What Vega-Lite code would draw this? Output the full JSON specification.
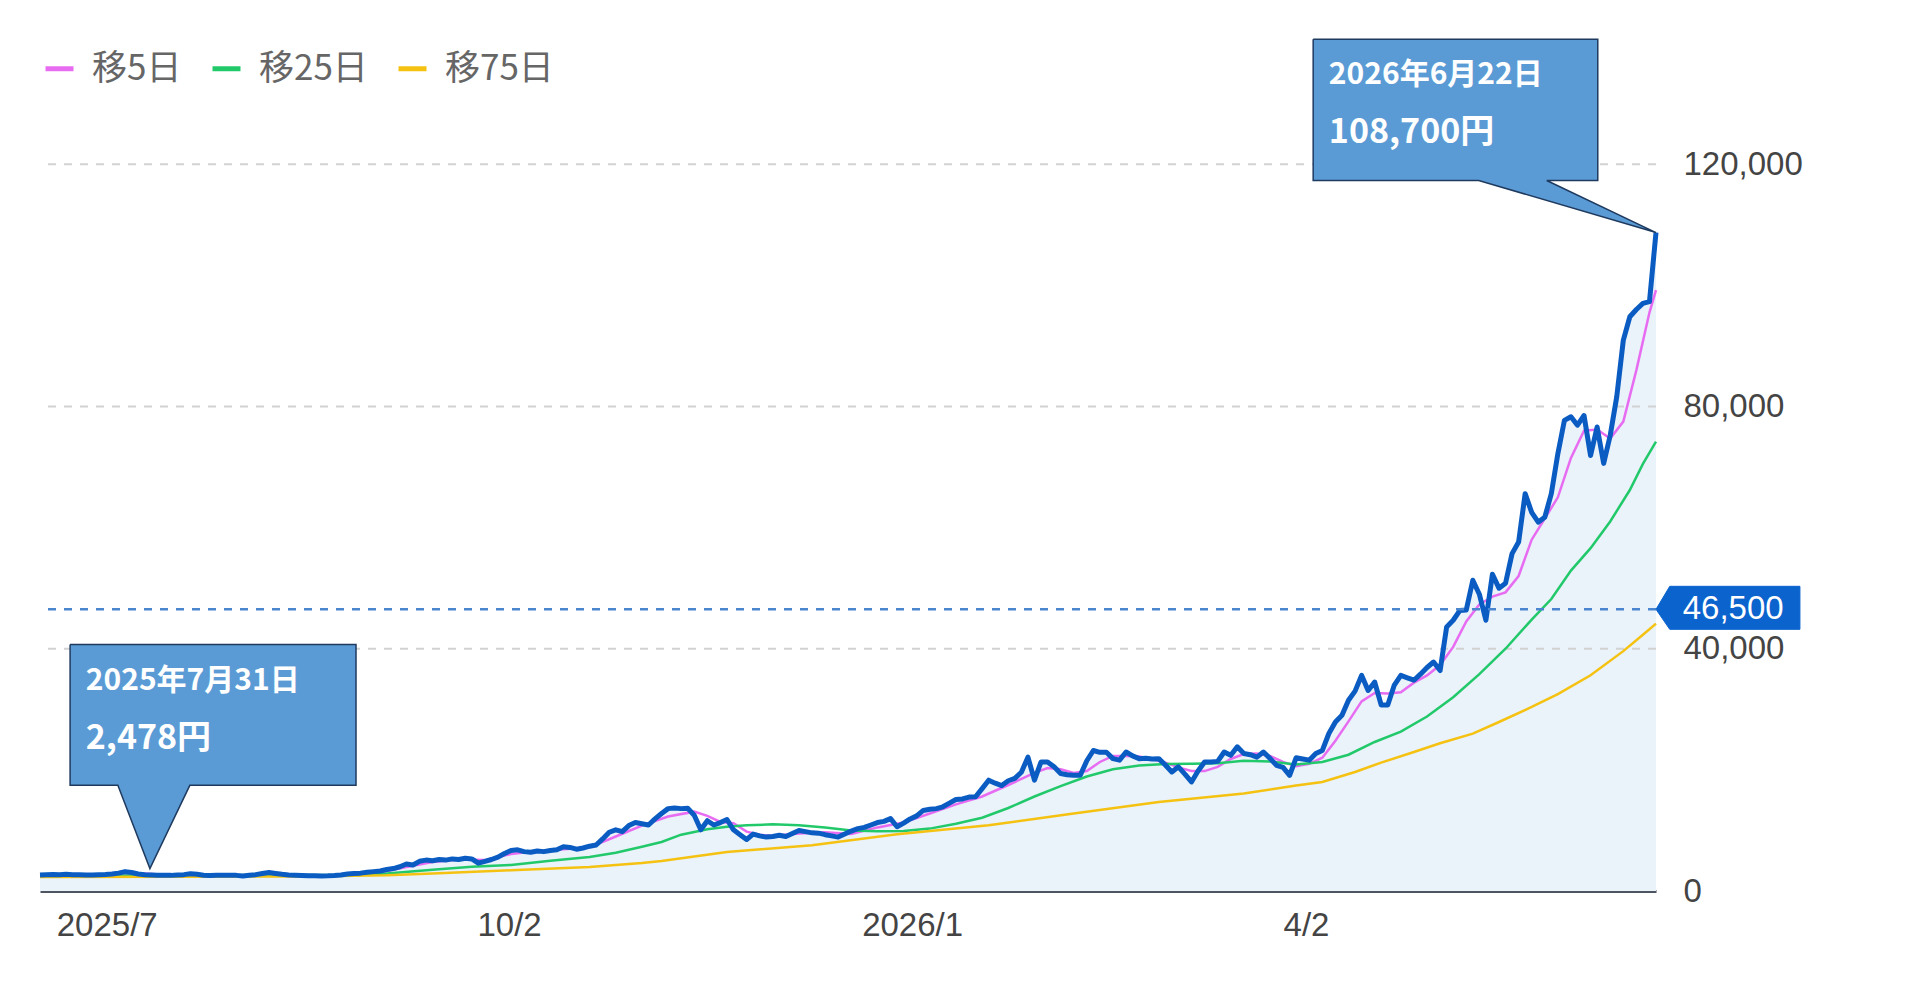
{
"$schema": "https://vega.github.io/schema/vega-lite/v6.json",
"width": 1616, "height": 848,
"autosize": {"type": "none"},
"padding": {"left": 40, "top": 43, "right": 254, "bottom": 106},
"background": "white",
"config": {"view": {"stroke": null}, "font": "Liberation Sans"},
"datasets": {
"price": [
{"i":0,"p":2650},{"i":1,"p":2700},{"i":2,"p":2720},{"i":3,"p":2680},{"i":4,"p":2750},{"i":5,"p":2700},{"i":6,"p":2690},{"i":7,"p":2640},{"i":8,"p":2660},{"i":9,"p":2700},
{"i":10,"p":2720},{"i":11,"p":2800},{"i":12,"p":2950},{"i":13,"p":3200},{"i":14,"p":3050},{"i":15,"p":2800},{"i":16,"p":2700},{"i":17,"p":2650},{"i":18,"p":2600},{"i":19,"p":2620},
{"i":20,"p":2580},{"i":21,"p":2650},{"i":22,"p":2700},{"i":23,"p":2850},{"i":24,"p":2750},{"i":25,"p":2600},{"i":26,"p":2550},{"i":27,"p":2580},{"i":28,"p":2620},{"i":29,"p":2600},
{"i":30,"p":2580},{"i":31,"p":2478},{"i":32,"p":2600},{"i":33,"p":2700},{"i":34,"p":2900},{"i":35,"p":3050},{"i":36,"p":2900},{"i":37,"p":2750},{"i":38,"p":2650},{"i":39,"p":2600},
{"i":40,"p":2550},{"i":41,"p":2500},{"i":42,"p":2520},{"i":43,"p":2480},{"i":44,"p":2500},{"i":45,"p":2550},{"i":46,"p":2650},{"i":47,"p":2800},{"i":48,"p":2900},{"i":49,"p":2950},
{"i":50,"p":3100},{"i":51,"p":3200},{"i":52,"p":3300},{"i":53,"p":3550},{"i":54,"p":3700},{"i":55,"p":4000},{"i":56,"p":4450},{"i":57,"p":4300},{"i":58,"p":4900},{"i":59,"p":5100},
{"i":60,"p":5000},{"i":61,"p":5200},{"i":62,"p":5100},{"i":63,"p":5300},{"i":64,"p":5200},{"i":65,"p":5400},{"i":66,"p":5300},{"i":67,"p":4600},{"i":68,"p":4900},{"i":69,"p":5200},
{"i":70,"p":5600},{"i":71,"p":6200},{"i":72,"p":6700},{"i":73,"p":6800},{"i":74,"p":6500},{"i":75,"p":6400},{"i":76,"p":6600},{"i":77,"p":6500},{"i":78,"p":6700},{"i":79,"p":6800},
{"i":80,"p":7300},{"i":81,"p":7200},{"i":82,"p":6900},{"i":83,"p":7100},{"i":84,"p":7400},{"i":85,"p":7600},{"i":86,"p":8600},{"i":87,"p":9700},{"i":88,"p":10100},{"i":89,"p":9800},
{"i":90,"p":10800},{"i":91,"p":11300},{"i":92,"p":11100},{"i":93,"p":10900},{"i":94,"p":11900},{"i":95,"p":12800},{"i":96,"p":13600},{"i":97,"p":13700},{"i":98,"p":13600},{"i":99,"p":13650},
{"i":100,"p":12500},{"i":101,"p":10100},{"i":102,"p":11600},{"i":103,"p":10900},{"i":104,"p":11300},{"i":105,"p":11800},{"i":106,"p":10100},{"i":107,"p":9300},{"i":108,"p":8500},{"i":109,"p":9400},
{"i":110,"p":9100},{"i":111,"p":8900},{"i":112,"p":9000},{"i":113,"p":9200},{"i":114,"p":9000},{"i":115,"p":9500},{"i":116,"p":10000},{"i":117,"p":9800},{"i":118,"p":9600},{"i":119,"p":9550},
{"i":120,"p":9300},{"i":121,"p":9100},{"i":122,"p":8900},{"i":123,"p":9400},{"i":124,"p":9900},{"i":125,"p":10300},{"i":126,"p":10500},{"i":127,"p":10900},{"i":128,"p":11300},{"i":129,"p":11500},
{"i":130,"p":11950},{"i":131,"p":10600},{"i":132,"p":11200},{"i":133,"p":11900},{"i":134,"p":12400},{"i":135,"p":13300},{"i":136,"p":13500},{"i":137,"p":13600},{"i":138,"p":13900},{"i":139,"p":14500},
{"i":140,"p":15100},{"i":141,"p":15200},{"i":142,"p":15500},{"i":143,"p":15550},{"i":144,"p":16900},{"i":145,"p":18300},{"i":146,"p":17800},{"i":147,"p":17400},{"i":148,"p":18200},{"i":149,"p":18600},
{"i":150,"p":19600},{"i":151,"p":22100},{"i":152,"p":18300},{"i":153,"p":21300},{"i":154,"p":21300},{"i":155,"p":20500},{"i":156,"p":19400},{"i":157,"p":19200},{"i":158,"p":19100},{"i":159,"p":19100},
{"i":160,"p":21500},{"i":161,"p":23200},{"i":162,"p":22900},{"i":163,"p":22900},{"i":164,"p":21850},{"i":165,"p":21600},{"i":166,"p":22950},{"i":167,"p":22300},{"i":168,"p":21850},{"i":169,"p":21900},
{"i":170,"p":21800},{"i":171,"p":21850},{"i":172,"p":20800},{"i":173,"p":19650},{"i":174,"p":20500},{"i":175,"p":19300},{"i":176,"p":18000},{"i":177,"p":19800},{"i":178,"p":21300},{"i":179,"p":21300},
{"i":180,"p":21400},{"i":181,"p":22950},{"i":182,"p":22400},{"i":183,"p":23800},{"i":184,"p":22700},{"i":185,"p":22500},{"i":186,"p":22100},{"i":187,"p":22950},{"i":188,"p":21900},{"i":189,"p":20750},
{"i":190,"p":20400},{"i":191,"p":19100},{"i":192,"p":22000},{"i":193,"p":21800},{"i":194,"p":21600},{"i":195,"p":22700},{"i":196,"p":23200},{"i":197,"p":26000},{"i":198,"p":27900},{"i":199,"p":29000},
{"i":200,"p":31500},{"i":201,"p":33000},{"i":202,"p":35600},{"i":203,"p":33100},{"i":204,"p":34500},{"i":205,"p":30700},{"i":206,"p":30700},{"i":207,"p":34000},{"i":208,"p":35600},{"i":209,"p":35200},
{"i":210,"p":34800},{"i":211,"p":35800},{"i":212,"p":36900},{"i":213,"p":37800},{"i":214,"p":36400},{"i":215,"p":43600},{"i":216,"p":44700},{"i":217,"p":46300},{"i":218,"p":46400},{"i":219,"p":51300},
{"i":220,"p":49000},{"i":221,"p":44700},{"i":222,"p":52300},{"i":223,"p":50000},{"i":224,"p":50800},{"i":225,"p":55700},{"i":226,"p":57600},{"i":227,"p":65600},{"i":228,"p":62500},{"i":229,"p":60900},
{"i":230,"p":61700},{"i":231,"p":65600},{"i":232,"p":72200},{"i":233,"p":77700},{"i":234,"p":78300},{"i":235,"p":76900},{"i":236,"p":78500},{"i":237,"p":71900},{"i":238,"p":76600},{"i":239,"p":70600},
{"i":240,"p":75200},{"i":241,"p":81600},{"i":242,"p":90900},{"i":243,"p":94800},{"i":244,"p":96000},{"i":245,"p":97000},{"i":246,"p":97300},{"i":247,"p":108700}
],
"ma": [
{"s":"移5日","i":0,"v":2680},{"s":"移5日","i":4,"v":2700},{"s":"移5日","i":8,"v":2690},{"s":"移5日","i":12,"v":2800},{"s":"移5日","i":16,"v":2900},{"s":"移5日","i":20,"v":2620},{"s":"移5日","i":24,"v":2700},{"s":"移5日","i":28,"v":2600},{"s":"移5日","i":32,"v":2580},{"s":"移5日","i":36,"v":2850},{"s":"移5日","i":40,"v":2650},{"s":"移5日","i":44,"v":2520},{"s":"移5日","i":48,"v":2700},{"s":"移5日","i":52,"v":3100},{"s":"移5日","i":56,"v":3950},{"s":"移5日","i":60,"v":4800},{"s":"移5日","i":64,"v":5200},{"s":"移5日","i":68,"v":5100},{"s":"移5日","i":72,"v":6100},{"s":"移5日","i":76,"v":6600},{"s":"移5日","i":80,"v":6900},{"s":"移5日","i":84,"v":7200},{"s":"移5日","i":88,"v":9000},{"s":"移5日","i":92,"v":10800},{"s":"移5日","i":96,"v":12300},{"s":"移5日","i":100,"v":13100},{"s":"移5日","i":102,"v":12400},{"s":"移5日","i":104,"v":11400},{"s":"移5日","i":106,"v":11200},{"s":"移5日","i":108,"v":9800},{"s":"移5日","i":110,"v":9300},{"s":"移5日","i":112,"v":9100},{"s":"移5日","i":116,"v":9500},{"s":"移5日","i":120,"v":9700},{"s":"移5日","i":124,"v":9400},{"s":"移5日","i":128,"v":10500},{"s":"移5日","i":132,"v":11300},{"s":"移5日","i":136,"v":12800},{"s":"移5日","i":140,"v":14300},{"s":"移5日","i":144,"v":15600},{"s":"移5日","i":148,"v":17500},{"s":"移5日","i":150,"v":18500},{"s":"移5日","i":152,"v":19500},{"s":"移5日","i":154,"v":20300},{"s":"移5日","i":156,"v":20100},{"s":"移5日","i":158,"v":19500},{"s":"移5日","i":160,"v":19800},{"s":"移5日","i":162,"v":21300},{"s":"移5日","i":164,"v":22300},{"s":"移5日","i":166,"v":22300},{"s":"移5日","i":168,"v":22200},{"s":"移5日","i":170,"v":21800},{"s":"移5日","i":172,"v":21200},{"s":"移5日","i":174,"v":20400},{"s":"移5日","i":176,"v":19800},{"s":"移5日","i":178,"v":19800},{"s":"移5日","i":180,"v":20500},{"s":"移5日","i":182,"v":21800},{"s":"移5日","i":184,"v":22600},{"s":"移5日","i":186,"v":22700},{"s":"移5日","i":188,"v":22300},{"s":"移5日","i":190,"v":21300},{"s":"移5日","i":192,"v":20600},{"s":"移5日","i":194,"v":21000},{"s":"移5日","i":196,"v":22000},{"s":"移5日","i":198,"v":24800},{"s":"移5日","i":200,"v":28000},{"s":"移5日","i":202,"v":31300},{"s":"移5日","i":204,"v":32700},{"s":"移5日","i":206,"v":32600},{"s":"移5日","i":208,"v":32800},{"s":"移5日","i":210,"v":34400},{"s":"移5日","i":212,"v":35600},{"s":"移5日","i":214,"v":37300},{"s":"移5日","i":216,"v":40300},{"s":"移5日","i":218,"v":44500},{"s":"移5日","i":220,"v":47300},{"s":"移5日","i":222,"v":48600},{"s":"移5日","i":224,"v":49300},{"s":"移5日","i":226,"v":52000},{"s":"移5日","i":228,"v":58000},{"s":"移5日","i":230,"v":61500},{"s":"移5日","i":232,"v":65000},{"s":"移5日","i":234,"v":71500},{"s":"移5日","i":236,"v":76000},{"s":"移5日","i":238,"v":76200},{"s":"移5日","i":240,"v":74700},{"s":"移5日","i":242,"v":77500},{"s":"移5日","i":244,"v":86000},{"s":"移5日","i":246,"v":95500},{"s":"移5日","i":247,"v":99200},
{"s":"移25日","i":0,"v":2450},{"s":"移25日","i":10,"v":2500},{"s":"移25日","i":20,"v":2600},{"s":"移25日","i":30,"v":2620},{"s":"移25日","i":40,"v":2650},{"s":"移25日","i":48,"v":2620},{"s":"移25日","i":53,"v":2870},{"s":"移25日","i":60,"v":3500},{"s":"移25日","i":66,"v":4000},{"s":"移25日","i":72,"v":4300},{"s":"移25日","i":78,"v":5000},{"s":"移25日","i":84,"v":5600},{"s":"移25日","i":88,"v":6300},{"s":"移25日","i":92,"v":7300},{"s":"移25日","i":95,"v":8100},{"s":"移25日","i":98,"v":9300},{"s":"移25日","i":102,"v":10200},{"s":"移25日","i":105,"v":10600},{"s":"移25日","i":108,"v":10850},{"s":"移25日","i":112,"v":11000},{"s":"移25日","i":116,"v":10850},{"s":"移25日","i":120,"v":10500},{"s":"移25日","i":124,"v":10000},{"s":"移25日","i":128,"v":9850},{"s":"移25日","i":132,"v":9900},{"s":"移25日","i":136,"v":10300},{"s":"移25日","i":140,"v":11100},{"s":"移25日","i":144,"v":12100},{"s":"移25日","i":148,"v":13700},{"s":"移25日","i":152,"v":15600},{"s":"移25日","i":156,"v":17300},{"s":"移25日","i":160,"v":18900},{"s":"移25日","i":164,"v":20100},{"s":"移25日","i":168,"v":20700},{"s":"移25日","i":172,"v":20950},{"s":"移25日","i":176,"v":21000},{"s":"移25日","i":180,"v":21100},{"s":"移25日","i":184,"v":21500},{"s":"移25日","i":188,"v":21400},{"s":"移25日","i":192,"v":20900},{"s":"移25日","i":196,"v":21300},{"s":"移25日","i":200,"v":22500},{"s":"移25日","i":204,"v":24600},{"s":"移25日","i":208,"v":26300},{"s":"移25日","i":212,"v":28800},{"s":"移25日","i":216,"v":32000},{"s":"移25日","i":220,"v":35800},{"s":"移25日","i":224,"v":40000},{"s":"移25日","i":228,"v":44800},{"s":"移25日","i":231,"v":48200},{"s":"移25日","i":234,"v":52900},{"s":"移25日","i":237,"v":56600},{"s":"移25日","i":240,"v":61000},{"s":"移25日","i":243,"v":66200},{"s":"移25日","i":245,"v":70500},{"s":"移25日","i":247,"v":74200},
{"s":"移75日","i":0,"v":2300},{"s":"移75日","i":20,"v":2350},{"s":"移75日","i":40,"v":2400},{"s":"移75日","i":53,"v":2590},{"s":"移75日","i":60,"v":2900},{"s":"移75日","i":72,"v":3420},{"s":"移75日","i":84,"v":3960},{"s":"移75日","i":92,"v":4620},{"s":"移75日","i":95,"v":4950},{"s":"移75日","i":105,"v":6440},{"s":"移75日","i":118,"v":7540},{"s":"移75日","i":131,"v":9360},{"s":"移75日","i":145,"v":10850},{"s":"移75日","i":158,"v":12780},{"s":"移75日","i":171,"v":14690},{"s":"移75日","i":184,"v":16080},{"s":"移75日","i":192,"v":17400},{"s":"移75日","i":196,"v":18000},{"s":"移75日","i":201,"v":19650},{"s":"移75日","i":205,"v":21200},{"s":"移75日","i":210,"v":22950},{"s":"移75日","i":214,"v":24400},{"s":"移75日","i":219,"v":25990},{"s":"移75日","i":223,"v":27900},{"s":"移75日","i":228,"v":30380},{"s":"移75日","i":232,"v":32500},{"s":"移75日","i":237,"v":35610},{"s":"移75日","i":242,"v":39600},{"s":"移75日","i":245,"v":42300},{"s":"移75日","i":247,"v":44150}
],
"grid": [{"v":40000},{"v":80000},{"v":120000}],
"callout": [
{"id":"a","o":1,"x":194.6,"y":140600},{"id":"a","o":2,"x":238.1,"y":140600},{"id":"a","o":3,"x":238.1,"y":117300},{"id":"a","o":4,"x":230.3,"y":117300},{"id":"a","o":5,"x":247,"y":108700},{"id":"a","o":6,"x":219.9,"y":117300},{"id":"a","o":7,"x":194.6,"y":117300},{"id":"a","o":8,"x":194.6,"y":140600},
{"id":"b","o":1,"x":4.6,"y":40700},{"id":"b","o":2,"x":48.3,"y":40700},{"id":"b","o":3,"x":48.3,"y":17450},{"id":"b","o":4,"x":22.9,"y":17450},{"id":"b","o":5,"x":16.8,"y":3700},{"id":"b","o":6,"x":11.9,"y":17450},{"id":"b","o":7,"x":4.6,"y":17450},{"id":"b","o":8,"x":4.6,"y":40700}
],
"tag": [
{"o":1,"x":247,"y":46500},{"o":2,"x":249.1,"y":50300},{"o":3,"x":269,"y":50300},{"o":4,"x":269,"y":43200},{"o":5,"x":249.1,"y":43200},{"o":6,"x":247,"y":46500}
],
"dates": [{"x":197.0,"y":134700,"t":"2026年6月22日"},{"x":7.0,"y":34630,"t":"2025年7月31日"}],
"prices": [{"x":197.0,"y":125100,"t":"108,700円"},{"x":7.0,"y":25050,"t":"2,478円"}],
"level": [{"x":258.8,"y":46500,"t":"46,500"}]
},
"layer": [
{"data": {"name": "price"},
 "mark": {"type": "area", "color": "#eaf2fa"},
 "encoding": {
  "x": {"field": "i", "type": "quantitative", "title": null,
        "scale": {"domain": [0, 247], "nice": false, "zero": false},
        "axis": {"values": [10.2, 71.7, 133.3, 193.5], "labelExpr": "datum.value < 40 ? '2025/7' : datum.value < 100 ? '10/2' : datum.value < 160 ? '2026/1' : '4/2'",
                 "ticks": false, "grid": false, "domainColor": "#4d5560", "domainWidth": 3,
                 "labelFontSize": 33, "labelColor": "#444444", "labelFont": "Liberation Sans", "labelPadding": 18, "labelFlush": false}},
  "y": {"field": "p", "type": "quantitative", "title": null,
        "scale": {"domain": [0, 140000], "nice": false},
        "axis": {"orient": "right", "values": [0, 40000, 80000, 120000], "labelExpr": "format(datum.value, ',')", "ticks": false, "domain": false, "grid": false,
                 "labelFontSize": 33, "labelColor": "#444444", "labelFont": "Liberation Sans", "labelPadding": 27, "labelAlign": "left"}}
 }},
{"data": {"name": "grid"},
 "mark": {"type": "rule", "color": "#d2d2d2", "strokeWidth": 2, "strokeDash": [8, 8]},
 "encoding": {"y": {"field": "v", "type": "quantitative", "title": null}}},
{"data": {"name": "ma"},
 "mark": {"type": "line", "strokeWidth": 2.5},
 "encoding": {
  "x": {"field": "i", "type": "quantitative", "title": null},
  "y": {"field": "v", "type": "quantitative", "title": null},
  "color": {"field": "s", "type": "nominal",
            "scale": {"domain": ["移5日", "移25日", "移75日"], "range": ["#e86cf2", "#22c96a", "#f5c211"]},
            "legend": {"title": null, "orient": "none", "legendX": 2, "legendY": 8, "direction": "horizontal", "padding": 0,
                       "symbolType": "stroke", "symbolSize": 784, "symbolStrokeWidth": 5,
                       "labelFont": "Noto Sans CJK JP", "labelFontSize": 35, "labelColor": "#666666",
                       "labelOffset": 15, "columnPadding": 20}}
 }},
{"data": {"name": "price"},
 "mark": {"type": "line", "color": "#0a5cc2", "strokeWidth": 5, "strokeJoin": "round"},
 "encoding": {
  "x": {"field": "i", "type": "quantitative", "title": null},
  "y": {"field": "p", "type": "quantitative", "title": null}}},
{"data": {"values": [{"v": 46500}]},
 "mark": {"type": "rule", "color": "#4a86cf", "strokeWidth": 2.5, "strokeDash": [8, 8]},
 "encoding": {"y": {"field": "v", "type": "quantitative", "title": null}}},
{"data": {"name": "callout"},
 "mark": {"type": "line", "fill": "#5b9bd5", "stroke": "#1f3a5f", "strokeWidth": 1.5, "strokeJoin": "miter"},
 "encoding": {
  "x": {"field": "x", "type": "quantitative", "title": null},
  "y": {"field": "y", "type": "quantitative", "title": null},
  "detail": {"field": "id"},
  "order": {"field": "o", "type": "quantitative"}}},
{"data": {"name": "tag"},
 "mark": {"type": "line", "fill": "#0b63ce", "stroke": "#0b63ce", "strokeWidth": 1},
 "encoding": {
  "x": {"field": "x", "type": "quantitative", "title": null},
  "y": {"field": "y", "type": "quantitative", "title": null},
  "order": {"field": "o", "type": "quantitative"}}},
{"data": {"name": "dates"},
 "mark": {"type": "text", "align": "left", "baseline": "middle", "color": "white", "font": "Noto Sans CJK JP", "fontWeight": "bold", "fontSize": 30},
 "encoding": {
  "x": {"field": "x", "type": "quantitative", "title": null},
  "y": {"field": "y", "type": "quantitative", "title": null},
  "text": {"field": "t"}}},
{"data": {"name": "prices"},
 "mark": {"type": "text", "align": "left", "baseline": "middle", "color": "white", "font": "Noto Sans CJK JP", "fontWeight": "bold", "fontSize": 34},
 "encoding": {
  "x": {"field": "x", "type": "quantitative", "title": null},
  "y": {"field": "y", "type": "quantitative", "title": null},
  "text": {"field": "t"}}},
{"data": {"name": "level"},
 "mark": {"type": "text", "align": "center", "baseline": "middle", "color": "white", "font": "Liberation Sans", "fontSize": 33},
 "encoding": {
  "x": {"field": "x", "type": "quantitative", "title": null},
  "y": {"field": "y", "type": "quantitative", "title": null},
  "text": {"field": "t"}}}
]
}
